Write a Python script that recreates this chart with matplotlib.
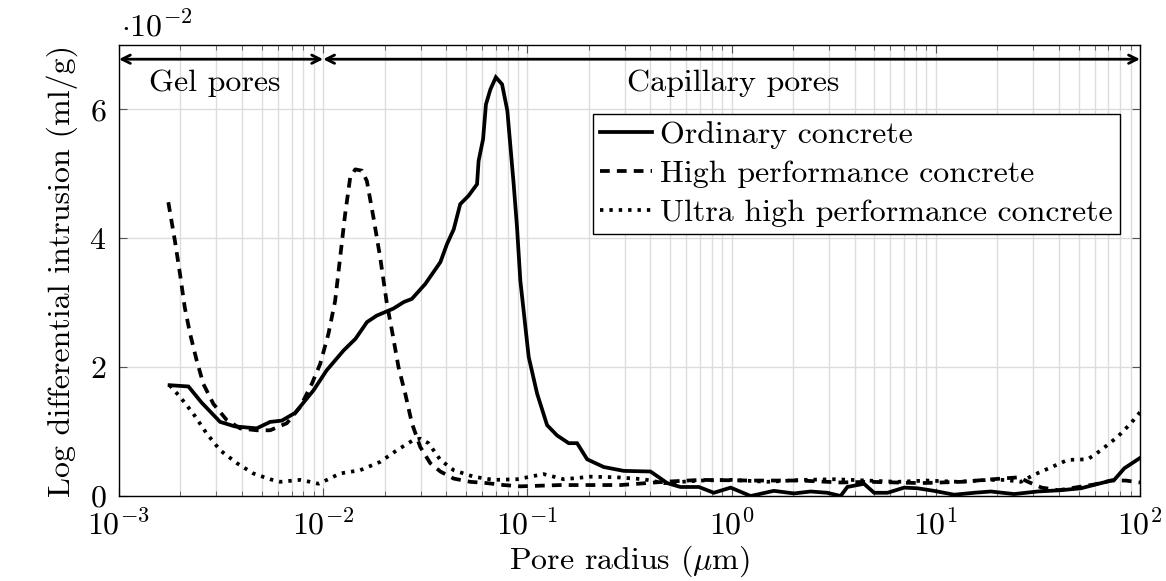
import numpy as np
import matplotlib
matplotlib.use("Agg")
import matplotlib.pyplot as plt
from matplotlib.ticker import LogLocator, NullFormatter

plt.rcParams['font.family'] = ['cmr10', 'DejaVu Serif']
plt.rcParams['mathtext.fontset'] = 'cm'
plt.rcParams['axes.formatter.use_mathtext'] = True

# Pore radius (µm) and log differential intrusion (in 1e-2 ml/g)
oc_r = [0.00177, 0.00219, 0.00254, 0.00313, 0.0037, 0.00473, 0.0055, 0.00627, 0.00729,
        0.00897, 0.0104, 0.0126, 0.0144, 0.0164, 0.0183, 0.0221, 0.0248, 0.0272, 0.0316,
        0.0375, 0.0404, 0.0436, 0.0469, 0.0515, 0.0567, 0.0577, 0.0607, 0.0627, 0.0659,
        0.0701, 0.0752, 0.0798, 0.0857, 0.089, 0.0924, 0.1015, 0.1116, 0.1249, 0.1398,
        0.1594, 0.1752, 0.1962, 0.2366, 0.2965, 0.401, 0.484, 0.562, 0.692, 0.818, 0.99,
        1.24, 1.61, 2.02, 2.44, 2.94, 3.42, 3.69, 4.45, 4.99, 5.8, 7.0, 8.13, 9.8, 12.3,
        15.4, 18.6, 24.2, 31.5, 41.0, 51.4, 64.4, 74.8, 83.8, 100.0]
oc_v = [1.72, 1.70, 1.45, 1.15, 1.08, 1.05, 1.15, 1.17, 1.29,
        1.64, 1.95, 2.26, 2.44, 2.70, 2.80, 2.91, 3.01, 3.06, 3.29,
        3.63, 3.91, 4.14, 4.53, 4.66, 4.84, 5.20, 5.54, 6.08, 6.31,
        6.50, 6.39, 5.98, 4.84, 4.17, 3.34, 2.16, 1.59, 1.10, 0.94,
        0.82, 0.82, 0.57, 0.45, 0.39, 0.38, 0.20, 0.14, 0.14, 0.05, 0.13,
        0.00, 0.08, 0.04, 0.07, 0.05, 0.00, 0.14, 0.19, 0.05, 0.05, 0.13, 0.12, 0.08, 0.02,
        0.05, 0.07, 0.03, 0.07, 0.09, 0.12, 0.20, 0.25, 0.43, 0.59]

hpc_r = [0.001745, 0.00188, 0.00199, 0.0021, 0.00223, 0.0024, 0.00259, 0.0029, 0.00337,
         0.00392, 0.00473, 0.0055, 0.00664, 0.00771, 0.0088, 0.00967, 0.01062, 0.01145,
         0.01211, 0.01282, 0.01356, 0.01436, 0.01548, 0.01637, 0.01764, 0.01903, 0.02053,
         0.02172, 0.02339, 0.02523, 0.0272, 0.0299, 0.03345, 0.0375, 0.0436, 0.05255,
         0.0634, 0.0766, 0.0924, 0.145, 0.286, 0.464, 0.705, 1.24, 2.18, 3.42, 4.8, 8.44,
         13.3, 20.8, 25.5, 28.3, 33.0, 40.0, 60.0, 72.1, 85.0, 100.0]
hpc_v = [4.56, 3.96, 3.45, 2.93, 2.52, 2.11, 1.74, 1.43, 1.18,
         1.05, 1.02, 1.02, 1.13, 1.38, 1.74, 2.05, 2.52, 3.03,
         3.70, 4.38, 4.94, 5.07, 5.05, 4.89, 4.32, 3.70, 2.98,
         2.57, 2.00, 1.59, 1.13, 0.76, 0.51, 0.38, 0.27, 0.22,
         0.20, 0.17, 0.15, 0.17, 0.17, 0.22, 0.25, 0.24, 0.24, 0.21, 0.22, 0.20,
         0.22, 0.27, 0.29, 0.22, 0.13, 0.09, 0.18, 0.24, 0.24, 0.21]

uhpc_r = [0.00177, 0.00199, 0.00231, 0.00269, 0.00313, 0.00378, 0.00455, 0.0055, 0.00615,
          0.00771, 0.00863, 0.00949, 0.01043, 0.01211, 0.01517, 0.01903, 0.02296, 0.0277,
          0.0299, 0.0328, 0.0375, 0.0436, 0.0545, 0.0684, 0.089, 0.120, 0.151, 0.204,
          0.275, 0.371, 0.466, 0.7, 1.0, 1.5, 2.2, 3.2, 4.6, 6.5, 9.0, 13.0, 18.0, 22.0,
          26.1, 30.3, 37.0, 44.2, 55.5, 64.4, 71.0, 77.8, 90.3, 100.0]
uhpc_v = [1.72, 1.54, 1.28, 0.97, 0.71, 0.51, 0.35, 0.26, 0.22,
          0.25, 0.22, 0.19, 0.25, 0.35, 0.40, 0.53, 0.71, 0.87,
          0.89, 0.82, 0.56, 0.40, 0.30, 0.25, 0.26, 0.34, 0.26, 0.30,
          0.29, 0.26, 0.20, 0.24, 0.25, 0.22, 0.25, 0.26, 0.24, 0.22, 0.24, 0.22, 0.25, 0.25,
          0.22, 0.33, 0.45, 0.56, 0.57, 0.71, 0.82, 0.92, 1.13, 1.30]

labels = ["Ordinary concrete", "High performance concrete",
          "Ultra high performance concrete"]

FS = 23

fig = plt.figure(figsize=(11.66, 5.81), dpi=100)
ax = fig.add_axes([0.102, 0.1463, 0.8757, 0.7762])

lw = 2.7
ax.plot(oc_r, oc_v, color='black', lw=lw, solid_joinstyle='miter', label=labels[0])
ax.plot(hpc_r, hpc_v, color='black', lw=lw, dashes=(2.6, 1.9), label=labels[1])
ax.plot(uhpc_r, uhpc_v, color='black', lw=lw, dashes=(0.9, 1.6), label=labels[2])

ax.set_xscale('log')
ax.set_xlim(1e-3, 1e2)
ax.set_ylim(0, 7)
ax.set_yticks([0, 2, 4, 6])
ax.xaxis.set_major_locator(LogLocator(base=10, numticks=10))
ax.xaxis.set_minor_locator(LogLocator(base=10, subs=np.arange(2, 10), numticks=20))
ax.xaxis.set_minor_formatter(NullFormatter())

ax.grid(True, which='major', color='#dcdcdc', lw=1.0)
ax.grid(True, which='minor', axis='x', color='#dcdcdc', lw=1.0)
ax.set_axisbelow(True)

ax.tick_params(axis='both', which='major', direction='in', length=6, width=0.8,
               top=True, right=True, labelsize=FS, pad=9, color='#555555')
ax.tick_params(axis='y', which='major', pad=9)
ax.tick_params(axis='both', which='minor', direction='in', length=3.5, width=0.6,
               top=True, right=True, color='#555555')
for s in ax.spines.values():
    s.set_linewidth(1.0)

ax.set_xlabel(r'Pore radius ($\mu$m)', fontsize=FS, labelpad=2)
ax.set_ylabel('Log differential intrusion (ml/g)', fontsize=FS, labelpad=8)
ax.text(0.002, 1.02, r'$\cdot 10^{-2}$', transform=ax.transAxes, fontsize=FS,
        ha='left', va='baseline')

arrow_y = 6.78
for x0, x1 in [(1e-3, 1e-2), (1e-2, 1e2)]:
    ax.annotate('', xy=(x1, arrow_y), xytext=(x0, arrow_y),
                arrowprops=dict(arrowstyle='<->,head_length=0.6,head_width=0.3',
                                color='black', lw=2.0, shrinkA=0, shrinkB=0))
ax.text(10**-2.53, 6.2, 'Gel pores', fontsize=FS, ha='center', va='bottom')
ax.text(10**0.01, 6.2, 'Capillary pores', fontsize=FS, ha='center', va='bottom')

leg = ax.legend(loc='upper right', bbox_to_anchor=(0.9805, 0.847), fontsize=FS,
                frameon=True, fancybox=False, edgecolor='black', framealpha=1.0,
                handlelength=1.65, handletextpad=0.25, borderpad=0.22,
                labelspacing=0.33, borderaxespad=0)
leg.get_frame().set_linewidth(1.0)

fig.savefig('out.png', dpi=100)
